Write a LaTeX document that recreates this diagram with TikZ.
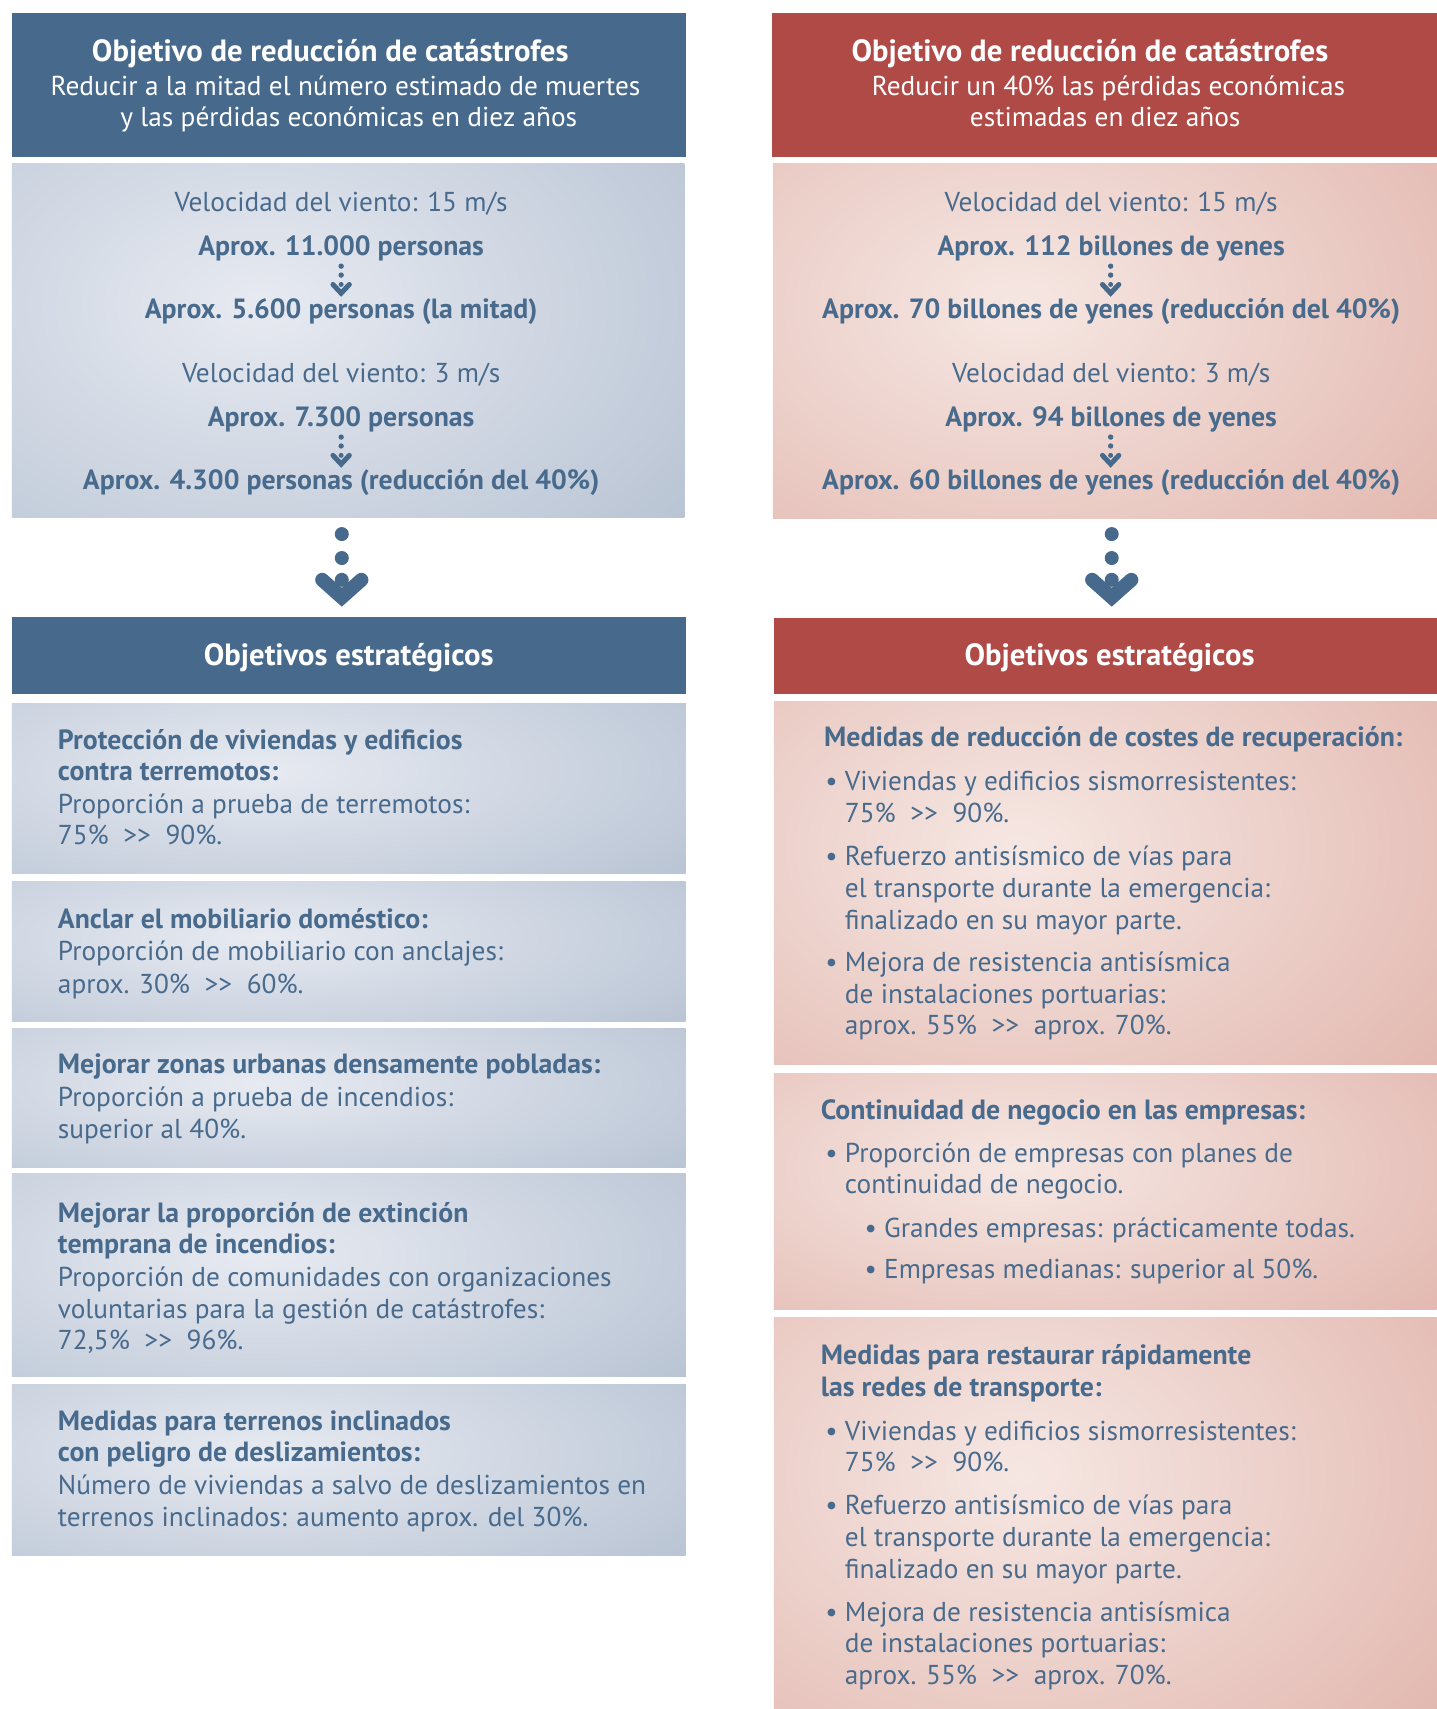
\documentclass[tikz,border=0pt]{standalone}
\usepackage{fontspec}
\setmainfont{PT Sans}
\usetikzlibrary{calc}
\definecolor{hblue}{RGB}{71,106,140}
\definecolor{hred}{RGB}{176,74,70}
\definecolor{bedge}{RGB}{170,184,203}
\definecolor{bcenter}{RGB}{231,234,241}
\definecolor{redge}{RGB}{220,170,160}
\definecolor{rcenter}{RGB}{246,231,227}
\definecolor{tblue}{RGB}{72,106,140}
% name, x1, y1, x2, y2, edge colour, centre colour
\newcommand{\gradbox}[7]{%
  \node[anchor=north west, inner sep=0pt, outer sep=0pt,
    minimum width={(#4-#2)*1.0895pt}, minimum height={(#5-#3)*1.0895pt},
    fill=#6,
    path picture={\shade[inner color=#7, outer color=#6]
      ($(path picture bounding box.north west)!0.37!(path picture bounding box.north east)
        + (0,{-0.4*(#5-#3)*1.0895pt})$)
      ellipse [x radius={1.05*(#4-#2)*1.0895pt}, y radius={1.3*(#5-#3)*1.0895pt}];}]
    (#1) at (#2,#3) {};}
\newcommand{\flatbox}[6]{%
  \node[anchor=north west, inner sep=0pt, outer sep=0pt,
    minimum width={(#4-#2)*1.0895pt}, minimum height={(#5-#3)*1.0895pt},
    fill=#6] (#1) at (#2,#3) {};}
\newcommand{\lineL}[5]{\node[#1, anchor=mid west] (#2) at (#3,#4) {#5};}
\newcommand{\lineC}[5]{\node[#1, anchor=mid] (#2) at (#3,#4) {#5};}
% small arrow: x, y of first dot
\newcommand{\smallarr}[2]{%
  \fill[hblue] (#1,#2) circle (2.7pt);
  \fill[hblue] (#1,#2+8.2) circle (2.7pt);
  \draw[hblue, line width=5pt, line cap=round, line join=miter]
    (#1-7.5,#2+16.8) -- (#1,#2+24.8) -- (#1+7.5,#2+16.8);
  \fill[hblue] (#1,#2+16.8) circle (2.5pt);}
% big arrow: x, y of first dot
\newcommand{\bigarr}[2]{%
  \fill[hblue] (#1,#2) circle (7pt);
  \fill[hblue] (#1,#2+22) circle (7pt);
  \draw[hblue, line width=14pt, line cap=round, line join=miter]
    (#1-18,#2+42) -- (#1,#2+58) -- (#1+18,#2+42);
  \fill[hblue] (#1,#2+42) circle (7pt);}
\begin{document}
\begin{tikzpicture}[x=1.0895pt, y=-1.0895pt,
  txt/.style={text=tblue, font=\fontsize{27.3}{32}\selectfont, inner sep=0pt, yshift=-6.5pt},
  btxt/.style={txt, font=\fontsize{27.8}{32}\selectfont\bfseries},
  wtxt/.style={txt, text=white},
  wbtxt/.style={btxt, text=white},
  htxt/.style={btxt, text=white, font=\fontsize{30.7}{36}\selectfont\bfseries}]
\useasboundingbox (0,0) rectangle (1318,1568);
\fill[white] (0,0) rectangle (1318,1568);

% ---------- boxes ----------
\flatbox{hL}{11}{12}{629}{144}{hblue}
\flatbox{hR}{708}{12}{1318}{144}{hred}
\gradbox{tL}{11}{150}{628}{475}{bedge}{bcenter}
\gradbox{tR}{709}{150}{1318}{476}{redge}{rcenter}
\flatbox{sL}{11}{566}{629}{637}{hblue}
\flatbox{sR}{710}{567}{1318}{637}{hred}
\gradbox{L1}{11}{645}{629}{801}{bedge}{bcenter}
\gradbox{L2}{11}{809}{629}{937}{bedge}{bcenter}
\gradbox{L3}{11}{944}{629}{1071}{bedge}{bcenter}
\gradbox{L4}{11}{1077}{629}{1263}{bedge}{bcenter}
\gradbox{L5}{11}{1270}{629}{1427}{bedge}{bcenter}
\gradbox{R1}{710}{644}{1318}{977}{redge}{rcenter}
\gradbox{R2}{710}{985}{1318}{1201}{redge}{rcenter}
\gradbox{R3}{710}{1209}{1318}{1568}{redge}{rcenter}

% ---------- arrows ----------
\smallarr{313}{244.2}
\smallarr{313}{401}
\smallarr{1019}{244.2}
\smallarr{1019}{401}
\bigarr{313.6}{490}
\bigarr{1020}{490}

% ---------- header texts ----------
\lineC{htxt}{hL1}{303}{48}{Objetivo de reducción de catástrofes}
\lineC{wtxt}{hL2}{317}{79}{Reducir a la mitad el número estimado de muertes}
\lineC{wtxt}{hL3}{320}{108}{y las pérdidas económicas en diez años}
\lineC{htxt}{hR1}{1000}{48}{Objetivo de reducción de catástrofes}
\lineC{wtxt}{hR2}{1017}{79}{Reducir un 40\% las pérdidas económicas}
\lineC{wtxt}{hR3}{1014}{108}{estimadas en diez años}

% ---------- top boxes ----------
\lineC{txt}{a1}{313}{186}{Velocidad del viento: 15 m/s}
\lineC{btxt}{a2}{313}{226}{Aprox. 11.000 personas}
\lineC{btxt}{a3}{313}{284}{Aprox. 5.600 personas (la mitad)}
\lineC{txt}{a4}{313}{343}{Velocidad del viento: 3 m/s}
\lineC{btxt}{a5}{313}{383}{Aprox. 7.300 personas}
\lineC{btxt}{a6}{313}{441}{Aprox. 4.300 personas (reducción del 40\%)}

\lineC{txt}{b1}{1019.5}{186}{Velocidad del viento: 15 m/s}
\lineC{btxt}{b2}{1019.5}{226}{Aprox. 112 billones de yenes}
\lineC{btxt}{b3}{1019.5}{284}{Aprox. 70 billones de yenes (reducción del 40\%)}
\lineC{txt}{b4}{1019.5}{343}{Velocidad del viento: 3 m/s}
\lineC{btxt}{b5}{1019.5}{383}{Aprox. 94 billones de yenes}
\lineC{btxt}{b6}{1019.5}{441}{Aprox. 60 billones de yenes (reducción del 40\%)}

% ---------- strategic headers ----------
\lineC{htxt}{sL1}{320}{602}{Objetivos estratégicos}
\lineC{htxt}{sR1}{1018}{602}{Objetivos estratégicos}

% ---------- left boxes ----------
\lineL{btxt}{L1a}{53}{679}{Protección de viviendas y edificios}
\lineL{btxt}{L1b}{53}{708}{contra terremotos:}
\lineL{txt}{L1c}{53}{738}{Proporción a prueba de terremotos:}
\lineL{txt}{L1d}{53}{767}{75\%\ \ >{}>\ \ 90\%.}

\lineL{btxt}{L2a}{53}{844}{Anclar el mobiliario doméstico:}
\lineL{txt}{L2b}{53}{873}{Proporción de mobiliario con anclajes:}
\lineL{txt}{L2c}{53}{903}{aprox. 30\%\ \ >{}>\ \ 60\%.}

\lineL{btxt}{L3a}{53}{977}{Mejorar zonas urbanas densamente pobladas:}
\lineL{txt}{L3b}{53}{1007}{Proporción a prueba de incendios:}
\lineL{txt}{L3c}{53}{1036}{superior al 40\%.}

\lineL{btxt}{L4a}{53}{1113}{Mejorar la proporción de extinción}
\lineL{btxt}{L4b}{53}{1142}{temprana de incendios:}
\lineL{txt}{L4c}{53}{1172}{Proporción de comunidades con organizaciones}
\lineL{txt}{L4d}{53}{1201}{voluntarias para la gestión de catástrofes:}
\lineL{txt}{L4e}{53}{1230}{72,5\%\ \ >{}>\ \ 96\%.}

\lineL{btxt}{L5a}{53}{1304}{Medidas para terrenos inclinados}
\lineL{btxt}{L5b}{53}{1333}{con peligro de deslizamientos:}
\lineL{txt}{L5c}{53}{1363}{Número de viviendas a salvo de deslizamientos en}
\lineL{txt}{L5d}{53}{1392}{terrenos inclinados: aumento aprox. del 30\%.}

% ---------- right boxes ----------
\lineL{btxt}{R1a}{756}{677}{Medidas de reducción de costes de recuperación:}
\lineL{txt}{R1b}{757}{717}{• Viviendas y edificios sismorresistentes:}
\lineL{txt}{R1c}{775}{746}{75\%\ \ >{}>\ \ 90\%.}
\lineL{txt}{R1d}{757}{786}{• Refuerzo antisísmico de vías para}
\lineL{txt}{R1e}{775}{815}{el transporte durante la emergencia:}
\lineL{txt}{R1f}{775}{845}{finalizado en su mayor parte.}
\lineL{txt}{R1g}{757}{883}{• Mejora de resistencia antisísmica}
\lineL{txt}{R1h}{775}{912}{de instalaciones portuarias:}
\lineL{txt}{R1i}{775}{941}{aprox. 55\%\ \ >{}>\ \ aprox. 70\%.}

\lineL{btxt}{R2a}{753}{1019}{Continuidad de negocio en las empresas:}
\lineL{txt}{R2b}{757}{1058}{• Proporción de empresas con planes de}
\lineL{txt}{R2c}{775}{1087}{continuidad de negocio.}
\lineL{txt}{R2d}{793}{1127}{• Grandes empresas: prácticamente todas.}
\lineL{txt}{R2e}{793}{1165}{• Empresas medianas: superior al 50\%.}

\lineL{btxt}{R3a}{753}{1244}{Medidas para restaurar rápidamente}
\lineL{btxt}{R3b}{753}{1273}{las redes de transporte:}
\lineL{txt}{R3c}{757}{1313}{• Viviendas y edificios sismorresistentes:}
\lineL{txt}{R3d}{775}{1342}{75\%\ \ >{}>\ \ 90\%.}
\lineL{txt}{R3e}{757}{1381}{• Refuerzo antisísmico de vías para}
\lineL{txt}{R3f}{775}{1411}{el transporte durante la emergencia:}
\lineL{txt}{R3g}{775}{1440}{finalizado en su mayor parte.}
\lineL{txt}{R3h}{757}{1479}{• Mejora de resistencia antisísmica}
\lineL{txt}{R3i}{775}{1508}{de instalaciones portuarias:}
\lineL{txt}{R3j}{775}{1537}{aprox. 55\%\ \ >{}>\ \ aprox. 70\%.}
\end{tikzpicture}
\end{document}
